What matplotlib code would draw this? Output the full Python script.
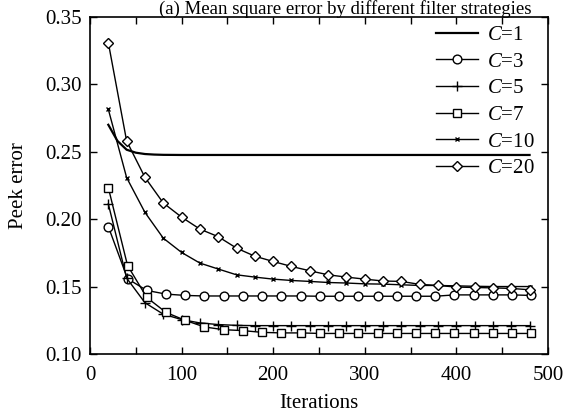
import matplotlib.pyplot as plt
from matplotlib.ticker import MultipleLocator, FuncFormatter

plt.rcParams['font.family'] = ['Liberation Serif', 'DejaVu Serif']
plt.rcParams['mathtext.fontset'] = 'custom'
plt.rcParams['mathtext.it'] = 'Liberation Serif:italic'
plt.rcParams['mathtext.rm'] = 'Liberation Serif'

# iterations at which each series was sampled
x20 = [20, 40, 60, 80, 100, 120, 140, 160, 180, 200, 220, 240,
       260, 280, 300, 320, 340, 360, 380, 400, 420, 440, 460, 480]
x21 = [20, 41, 62, 83, 104, 125, 146, 167, 188, 209, 230, 251,
       272, 293, 314, 335, 356, 377, 398, 419, 440, 461, 482]
x_c1 = [20, 30, 40, 50, 60, 70, 80, 100, 480]

c1 = [0.270, 0.258, 0.2515, 0.2493, 0.2483, 0.2479, 0.2477, 0.2476, 0.2476]
c3 = [0.1945, 0.1558, 0.1471, 0.1444, 0.1434, 0.1430, 0.1430, 0.1430, 0.1430,
      0.1430, 0.1430, 0.1428, 0.1428, 0.1428, 0.1428, 0.1428, 0.1428, 0.1428,
      0.1438, 0.1438, 0.1438, 0.1438, 0.1434]
c5 = [0.2113, 0.1563, 0.1380, 0.1295, 0.1255, 0.1230, 0.1218, 0.1212, 0.1210,
      0.1210, 0.1210, 0.1210, 0.1210, 0.1210, 0.1210, 0.1210, 0.1210, 0.1210,
      0.1210, 0.1210, 0.1210, 0.1210, 0.1210, 0.1210]
c7 = [0.2234, 0.1656, 0.1419, 0.1308, 0.1249, 0.1200, 0.1180, 0.1173, 0.1160,
      0.1156, 0.1156, 0.1152, 0.1152, 0.1152, 0.1152, 0.1152, 0.1152, 0.1152,
      0.1152, 0.1152, 0.1152, 0.1152, 0.1152]
c10 = [0.2815, 0.2308, 0.2050, 0.1859, 0.1753, 0.1674, 0.1630, 0.1587, 0.1570,
       0.1555, 0.1545, 0.1538, 0.1530, 0.1526, 0.1520, 0.1518, 0.1513, 0.1508,
       0.1508, 0.1505, 0.1502, 0.1500, 0.1500, 0.1500]
c20 = [0.331, 0.258, 0.231, 0.212, 0.2015, 0.1926, 0.187, 0.1785, 0.1725,
       0.1686, 0.1649, 0.1617, 0.1587, 0.1570, 0.1555, 0.1541, 0.1538, 0.1516,
       0.1508, 0.1496, 0.1493, 0.1490, 0.1486, 0.1476]

fig = plt.figure(figsize=(5.66, 4.13), dpi=100)
ax = fig.add_axes([0.159, 0.143, 0.809, 0.816])

mk = dict(color='black', lw=1.0, markerfacecolor='white', markeredgecolor='black',
          markeredgewidth=1.0)
ax.plot(x_c1, c1, color='black', lw=1.6, label='$C$=1')
ax.plot(x21, c3, marker='o', markersize=6.3, label='$C$=3', **mk)
ax.plot(x20, c5, marker='+', markersize=7, label='$C$=5', **mk)
ax.plot(x21, c7, marker='s', markersize=6, label='$C$=7', **mk)
ax.plot(x20, c10, marker='x', markersize=3.5, label='$C$=10', **mk)
ax.plot(x20, c20, marker='D', markersize=5, label='$C$=20', **mk)

ax.set_xlim(0, 500)
ax.set_ylim(0.10, 0.35)
ax.xaxis.set_major_locator(MultipleLocator(50))
ax.xaxis.set_major_formatter(FuncFormatter(lambda v, p: '%d' % v if v % 100 == 0 else ''))
ax.yaxis.set_major_locator(MultipleLocator(0.05))
ax.yaxis.set_major_formatter(FuncFormatter(lambda v, p: '%.2f' % v))
ax.tick_params(direction='in', top=True, right=True, labelsize=15, length=5, width=1)
ax.tick_params(axis='x', pad=9)
ax.tick_params(axis='y', pad=6)
for s in ax.spines.values():
    s.set_linewidth(1.2)

ax.set_xlabel('Iterations', fontsize=15, labelpad=6)
ax.set_ylabel('Peek error', fontsize=15, labelpad=12)

ax.legend(loc='upper right', frameon=False, fontsize=15, handlelength=2.0,
          labelspacing=0.34, handletextpad=0.45, borderaxespad=0.0,
          bbox_to_anchor=(0.99, 1.0))

fig.text(0.61, 1.0, '(a) Mean square error by different filter strategies',
         ha='center', va='top', fontsize=13.5)

fig.savefig('out.png', dpi=100)
